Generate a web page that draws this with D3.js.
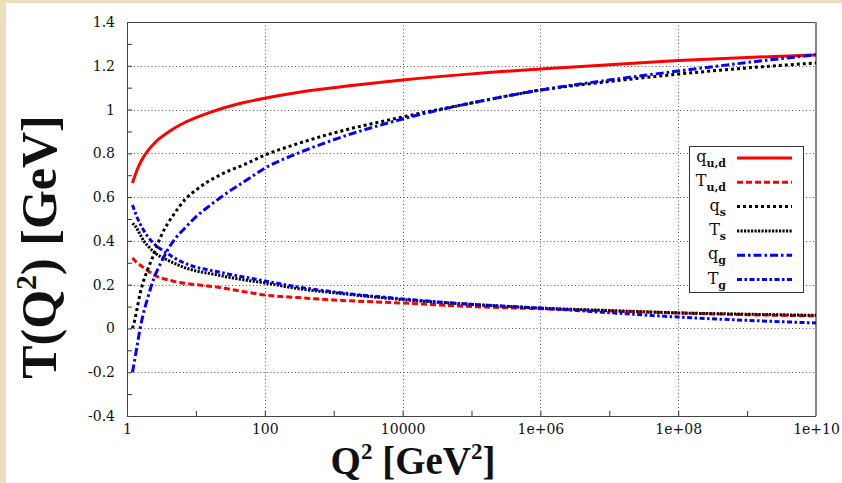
<!DOCTYPE html>
<html><head><meta charset="utf-8">
<script src="https://cdn.jsdelivr.net/npm/d3@7"></script>
<style>
html,body{margin:0;padding:0;background:#fff;}
svg{display:block;}
text{font-family:"Liberation Serif","DejaVu Serif",serif;}
</style></head>
<body>
<script>
// ---- data ----
const Q2 = [1.2,1.3,1.4,1.55,1.75,2,2.5,3,4,5,7,10,15,20,30,50,100,300,1e3,1e4,1e5,1e6,1e7,1e8,1e9,1e10];
const q_ud = [0.665,0.696,0.724,0.755,0.785,0.811,0.846,0.869,0.898,0.917,0.942,0.963,0.984,0.997,1.014,1.032,1.052,1.078,1.10,1.135,1.163,1.185,1.205,1.224,1.238,1.249];
const T_ud = [0.322,0.31,0.30,0.29,0.277,0.264,0.243,0.232,0.222,0.214,0.206,0.20,0.194,0.189,0.18,0.168,0.153,0.141,0.13,0.116,0.10,0.09,0.08,0.071,0.063,0.057];
const q_s  = [0.0,0.04,0.09,0.16,0.22,0.27,0.345,0.41,0.485,0.53,0.59,0.632,0.671,0.693,0.72,0.748,0.792,0.844,0.893,0.966,1.03,1.089,1.128,1.162,1.19,1.213];
const T_s  = [0.48,0.47,0.455,0.43,0.40,0.378,0.347,0.33,0.31,0.296,0.277,0.263,0.252,0.245,0.234,0.222,0.208,0.182,0.163,0.132,0.11,0.093,0.082,0.071,0.065,0.06];
const q_g  = [-0.2,-0.14,-0.08,0.0,0.075,0.14,0.235,0.29,0.365,0.41,0.46,0.51,0.555,0.585,0.625,0.67,0.732,0.80,0.862,0.957,1.03,1.089,1.135,1.176,1.215,1.25];
const T_g  = [0.564,0.535,0.508,0.478,0.447,0.42,0.385,0.365,0.34,0.32,0.297,0.28,0.268,0.26,0.248,0.235,0.217,0.19,0.167,0.135,0.11,0.093,0.072,0.052,0.037,0.025];

const seriesNames = ["q_ud","T_ud","q_s","T_s","q_g","T_g"];
const seriesMain = ["q","T","q","T","q","T"];
const seriesSub  = ["u,d","u,d","s","s","g","g"];
const seriesVals = [q_ud,T_ud,q_s,T_s,q_g,T_g];

const xTickValues = [1,100,1e4,1e6,1e8,1e10];
const xTickLabels = ["1","100","10000","1e+06","1e+08","1e+10"];
const xMinorTicks = [10,1e3,1e5,1e7,1e9];
const yTickValues = [-0.4,-0.2,0,0.2,0.4,0.6,0.8,1,1.2,1.4];
const yTickLabels = ["-0.4","-0.2","0","0.2","0.4","0.6","0.8","1","1.2","1.4"];
const yMinorTicks = [-0.3,-0.1,0.1,0.3,0.5,0.7,0.9,1.1,1.3];

// ---- styles ----
const colors = ["#ff0000","#ff0000","#000000","#000000","#0000ff","#0000ff"];
const dashes = [null,"6,3","3,3","2.2,1.3","8,3,2.5,3","5,2.5,2.5,2.5"];
const tickFont = "'DejaVu Serif', serif";

const W = 842, H = 483;
const L = 127, R = 816, T = 22, B = 416;

const svg = d3.select("body").append("svg").attr("width",W).attr("height",H);
svg.append("rect").attr("width",W).attr("height",H).attr("fill","#fff");
svg.append("rect").attr("x",0).attr("y",0).attr("width",6).attr("height",H).attr("fill","#ecdfbe");
svg.append("rect").attr("x",0).attr("y",0).attr("width",W).attr("height",3).attr("fill","#ecdfbe");

const x = d3.scaleLog().domain([1,1e10]).range([L,R]);
const y = d3.scaleLinear().domain([-0.4,1.4]).range([B,T]);

// grid
const grid = svg.append("g").attr("stroke","#555").attr("stroke-width",1).attr("stroke-dasharray","1,2.5");
grid.selectAll(".gy").data(yTickValues.slice(1,-1)).join("line")
  .attr("x1",L).attr("x2",R).attr("y1",d=>Math.round(y(d))+0.5).attr("y2",d=>Math.round(y(d))+0.5);
grid.selectAll(".gx").data(xTickValues.slice(1,-1)).join("line")
  .attr("y1",T).attr("y2",B).attr("x1",d=>Math.round(x(d))+0.5).attr("x2",d=>Math.round(x(d))+0.5);

// axes
const yAxis = d3.axisLeft(y).tickValues(yTickValues).tickSize(-5).tickPadding(12)
  .tickFormat((d,i)=>yTickLabels[i]);
const gy = svg.append("g").attr("transform",`translate(${L},0)`).call(yAxis);
gy.select(".domain").remove();
gy.selectAll("line").attr("stroke","#333");
gy.selectAll("text").style("font-size","14px").style("fill","#111").style("font-family",tickFont);

const yMinor = d3.axisLeft(y).tickValues(yMinorTicks).tickSize(-5).tickFormat("");
const gym = svg.append("g").attr("transform",`translate(${L},0)`).call(yMinor);
gym.select(".domain").remove(); gym.selectAll("line").attr("stroke","#333");

const xAxis = d3.axisBottom(x).tickValues(xTickValues).tickSize(-5).tickPadding(8)
  .tickFormat((d,i)=>xTickLabels[i]);
const gx = svg.append("g").attr("transform",`translate(0,${B})`).call(xAxis);
gx.select(".domain").remove();
gx.selectAll("line").attr("stroke","#333");
gx.selectAll("text").style("font-size","14px").style("fill","#111").style("font-family",tickFont);

const xMinor = d3.axisBottom(x).tickValues(xMinorTicks).tickSize(-5).tickFormat("");
const gxm = svg.append("g").attr("transform",`translate(0,${B})`).call(xMinor);
gxm.select(".domain").remove(); gxm.selectAll("line").attr("stroke","#333");

// frame
svg.append("rect").attr("x",L+0.5).attr("y",T+0.5).attr("width",R-L-1).attr("height",B-T)
  .attr("fill","none").attr("stroke","#444").attr("stroke-width",1);
svg.append("line").attr("x1",R).attr("x2",R).attr("y1",T).attr("y2",B)
  .attr("stroke","#888").attr("stroke-width",2);

// curves
const line = d3.line().x(d=>x(d[0])).y(d=>y(d[1])).curve(d3.curveMonotoneX);
seriesVals.forEach((vals,i)=>{
  const pts = Q2.map((q,j)=>[q,vals[j]]);
  svg.append("path").datum(pts).attr("d",line)
    .attr("fill","none").attr("stroke",colors[i]).attr("stroke-width",3)
    .attr("stroke-dasharray",dashes[i]);
});

// legend
const lg = svg.append("g");
lg.append("rect").attr("x",689.5).attr("y",146.5).attr("width",114).attr("height",146)
  .attr("fill","#fff").attr("stroke","#333").attr("stroke-width",1);
seriesNames.forEach((n,i)=>{
  const cy = 158 + i*24.3;
  const t = lg.append("text").attr("x",726).attr("y",cy+4).attr("text-anchor","end")
    .style("font-size","16px").style("fill","#111").style("font-family",tickFont);
  t.append("tspan").text(seriesMain[i]);
  t.append("tspan").style("font-size","11px").attr("dy",5).style("font-weight","bold").text(seriesSub[i]);
  lg.append("line").attr("x1",737).attr("x2",792).attr("y1",cy).attr("y2",cy)
    .attr("stroke",colors[i]).attr("stroke-width",3).attr("stroke-dasharray",dashes[i]);
});

// axis titles
const yt = svg.append("text").attr("transform","translate(56,247) rotate(-90)")
  .attr("text-anchor","middle").attr("font-size",50).attr("font-weight","bold").attr("fill","#111");
yt.append("tspan").text("T(Q");
yt.append("tspan").attr("font-size",30).attr("dy",-20).text("2");
yt.append("tspan").attr("dy",20).text(") [GeV]");

const xt = svg.append("text").attr("x",413).attr("y",474)
  .attr("text-anchor","middle").attr("font-size",39).attr("font-weight","bold").attr("fill","#111");
xt.append("tspan").text("Q");
xt.append("tspan").attr("font-size",23).attr("dy",-15).text("2");
xt.append("tspan").attr("dy",15).text(" [GeV");
xt.append("tspan").attr("font-size",23).attr("dy",-15).text("2");
xt.append("tspan").attr("dy",15).text("]");
</script>
</body></html>
